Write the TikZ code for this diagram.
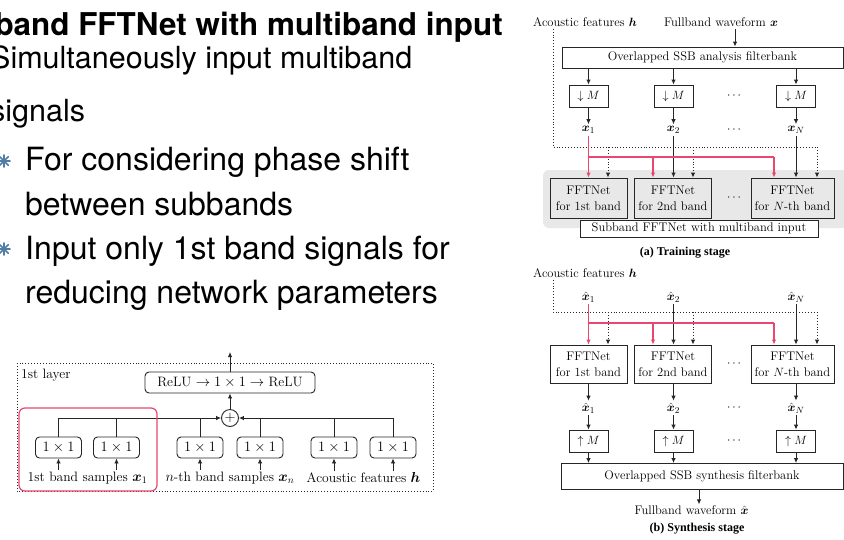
\documentclass[tikz,border=0pt]{standalone}
\usepackage{amsmath}
\usepackage{fontspec}
\newfontfamily\slidefont{TeX Gyre Heros}
\newfontfamily\capfont{Liberation Serif}
\usetikzlibrary{arrows.meta}
\definecolor{pinkred}{RGB}{232,72,112}
\definecolor{bulletblue}{RGB}{80,125,165}
\definecolor{bggray}{RGB}{232,232,232}
\tikzset{
  ln/.style={line width=0.9pt, draw=black!85},
  arr/.style={ln, -{Latex[length=5pt,width=4.5pt]}},
  dotln/.style={line width=0.9pt, dotted, draw=black!85},
  dotarr/.style={dotln, -{Latex[length=5pt,width=4.5pt]}},
  redln/.style={line width=1.2pt, draw=pinkred},
  redarr/.style={redln, -{Latex[length=5pt,width=4.5pt]}},
  sbox/.style={draw=black!85, line width=0.9pt, inner sep=0pt, align=center},
  rbox/.style={draw=black!85, line width=0.9pt, inner sep=0pt, rounded corners=4pt, fill=white},
  lbl/.style={inner sep=2pt},
  slidetext/.style={anchor=base west, inner sep=0pt, font=\slidefont\fontsize{32}{38}\selectfont},
  maintext/.style={anchor=base west, inner sep=0pt, font=\slidefont\fontsize{30.5}{36}\selectfont}
}
\begin{document}
\begin{tikzpicture}[x=1pt,y=-1pt]
\useasboundingbox (0,0) rectangle (844,539);
\clip (0,0) rectangle (844,539);
\fill[white] (0,0) rectangle (844,539);

% ---------------- slide text ----------------
\node[anchor=base east, inner sep=0pt, font=\slidefont\bfseries\fontsize{31.4}{36}\selectfont] (title) at (503,35) {Subband FFTNet with multiband input};
\node[maintext] (m1) at (-10,68) {Simultaneously input multiband};
\node[maintext] (m2) at (-10,121) {signals};
\node[slidetext] (s1) at (25,170) {For considering phase shift};
\node[slidetext] (s2) at (25,215) {between subbands};
\node[slidetext] (s3) at (25,259) {Input only 1st band signals for};
\node[slidetext] (s4) at (25,303) {reducing network parameters};
\foreach \cy in {161,249}{
  \foreach \a in {0,45,...,315}{
    \draw[bulletblue, line width=1.6pt, line cap=round] (4,\cy) -- ++(\a:6);
  }
}

% ---------------- left diagram ----------------
\begin{scope}[font=\fontsize{13.6}{16}\selectfont]
\draw[dotln] (17,363) rectangle (433,491);
\node[anchor=west, inner sep=2pt] (layer) at (19,375) {1st layer};
\node[rbox, minimum width=170pt, minimum height=21pt] (relu) at (230,382.5) {ReLU $\rightarrow 1\times1 \rightarrow$ ReLU};
\node[circle, draw=black!85, line width=0.9pt, fill=white, minimum size=17pt, inner sep=0pt] (plus) at (230,418) {$+$};
\coordinate (out) at (230,352);
\draw[arr] (relu.north) -- (out);
\draw[arr] (plus.north) -- (relu.south);
\foreach \n/\x in {b1/58.5,b2/116.5,b3/200,b4/260,b5/334,b6/393}{
  \node[rbox, minimum width=46pt, minimum height=21pt] (\n) at (\x,447.5) {$1\times1$};
}
\draw[arr] (b1.north) |- (plus.west);
\draw[arr] (b6.north) |- (plus.east);
\foreach \n in {b2,b3}{ \draw[ln] (\n.north) -- (\n.north |- plus.west); }
\foreach \n in {b4,b5}{ \draw[ln] (\n.north) -- (\n.north |- plus.east); }
\node[lbl] (lab1) at (87.5,478) {1st band samples $\boldsymbol{x}_1$};
\node[lbl] (lab2) at (230,478) {$n$-th band samples $\boldsymbol{x}_n$};
\node[lbl] (lab3) at (363.5,478) {Acoustic features $\boldsymbol{h}$};
\draw[arr] (lab1.north -| b1.south) -- (b1.south);
\draw[arr] (lab1.north -| b2.south) -- (b2.south);
\draw[arr] (lab2.north -| b3.south) -- (b3.south);
\draw[arr] (lab2.north -| b4.south) -- (b4.south);
\draw[arr] (lab3.north -| b5.south) -- (b5.south);
\draw[arr] (lab3.north -| b6.south) -- (b6.south);
\draw[pinkred, line width=1.2pt, rounded corners=6pt] (19,408) rectangle (157,491);
\end{scope}

% ---------------- right diagram: training ----------------
\begin{scope}[font=\fontsize{12.5}{16}\selectfont]
\fill[bggray, rounded corners=6pt] (543,170) rectangle (850,228);
\node[lbl] (af1) at (585,22) {Acoustic features $\boldsymbol{h}$};
\node[lbl] (fw) at (721,22) {Fullband waveform $\boldsymbol{x}$};
\node[sbox, fill=white, minimum width=281pt, minimum height=21pt] (afb) at (702.5,57.5) {Overlapped SSB analysis filterbank};
\draw[arr] ([xshift=14pt]fw.south) -- ([xshift=14pt]fw.south |- afb.north);
\node[sbox, minimum width=39pt, minimum height=22pt] (d1) at (588.5,96) {$\downarrow M$};
\node[sbox, minimum width=39pt, minimum height=22pt] (d2) at (673.5,96) {$\downarrow M$};
\node[sbox, minimum width=39pt, minimum height=22pt] (dN) at (796,96) {$\downarrow M$};
\node (dd1) at (735,96) {$\cdots$};
\foreach \n in {d1,d2,dN}{ \draw[arr] (afb.south -| \n.north) -- (\n.north); }
\node[lbl] (x1) at (588.5,130) {$\boldsymbol{x}_1$};
\node[lbl] (x2) at (673.5,130) {$\boldsymbol{x}_2$};
\node[lbl] (xN) at (796,130) {$\boldsymbol{x}_N$};
\node (dd2) at (735,130) {$\cdots$};
\draw[arr] (d1.south) -- (x1.north);
\draw[arr] (d2.south) -- (x2.north);
\draw[arr] (dN.south) -- (xN.north);

\node[sbox, minimum width=77pt, minimum height=40pt] (f1) at (588.5,198) {FFTNet\\for 1st band};
\node[sbox, minimum width=77pt, minimum height=40pt] (f2) at (673,198) {FFTNet\\for 2nd band};
\node[sbox, minimum width=83pt, minimum height=40pt] (fN) at (792.5,198) {FFTNet\\for $N$-th band};
\node (dd3) at (735,198) {$\cdots$};
\node[sbox, fill=white, minimum width=238pt, minimum height=17pt] (sub) at (699,228.5) {Subband FFTNet with multiband input};

% dotted acoustic feature lines
\coordinate (hc) at (553,147);
\coordinate (h1) at (608,147);
\coordinate (h2) at (693,147);
\coordinate (h3) at (817,147);
\draw[dotln] (af1.south -| hc) -- (hc) -- (h3);
\draw[dotarr] (h1) -- (h1 |- f1.north);
\draw[dotarr] (h2) -- (h2 |- f2.north);
\draw[dotarr] (h3) -- (h3 |- fN.north);
% black
\draw[arr] (x2.south) -- (x2.south |- f2.north);
\draw[arr] (xN.south) -- (xN.south |- fN.north);
% red
\coordinate (r1) at (588.5,157);
\coordinate (r2) at (653,157);
\coordinate (r3) at (774,157);
\draw[redln] (r1) -- (r3);
\draw[redarr] (x1.south) -- (x1.south |- f1.north);
\draw[redarr] (r2) -- (r2 |- f2.north);
\draw[redarr] (r3) -- (r3 |- fN.north);
\node[font=\capfont\bfseries\fontsize{12}{14}\selectfont] (capa) at (685,253) {(a) Training stage};

% ---------------- right diagram: synthesis ----------------
\node[lbl] (af2) at (585,273) {Acoustic features $\boldsymbol{h}$};
\node[lbl] (y1) at (588.5,297) {$\hat{\boldsymbol{x}}_1$};
\node[lbl] (y2) at (673.5,297) {$\hat{\boldsymbol{x}}_2$};
\node[lbl] (yN) at (796,297) {$\hat{\boldsymbol{x}}_N$};
\node[sbox, fill=white, minimum width=77pt, minimum height=38pt] (g1) at (588.5,364) {FFTNet\\for 1st band};
\node[sbox, fill=white, minimum width=77pt, minimum height=38pt] (g2) at (673,364) {FFTNet\\for 2nd band};
\node[sbox, fill=white, minimum width=83pt, minimum height=38pt] (gN) at (792.5,364) {FFTNet\\for $N$-th band};
\node (dd4) at (735,364) {$\cdots$};
\coordinate (kc) at (553,312);
\coordinate (k1) at (608,312);
\coordinate (k2) at (693,312);
\coordinate (k3) at (817,312);
\draw[dotln] (af2.south -| kc) -- (kc) -- (k3);
\draw[dotarr] (k1) -- (k1 |- g1.north);
\draw[dotarr] (k2) -- (k2 |- g2.north);
\draw[dotarr] (k3) -- (k3 |- gN.north);
\draw[arr] (y2.south) -- (y2.south |- g2.north);
\draw[arr] (yN.south) -- (yN.south |- gN.north);
\coordinate (q1) at (588.5,323);
\coordinate (q2) at (653,323);
\coordinate (q3) at (774,323);
\draw[redln] (q1) -- (q3);
\draw[redarr] (y1.south) -- (y1.south |- g1.north);
\draw[redarr] (q2) -- (q2 |- g2.north);
\draw[redarr] (q3) -- (q3 |- gN.north);

\node[lbl] (z1) at (588.5,408) {$\hat{\boldsymbol{x}}_1$};
\node[lbl] (z2) at (673.5,408) {$\hat{\boldsymbol{x}}_2$};
\node[lbl] (zN) at (796,408) {$\hat{\boldsymbol{x}}_N$};
\node (dd5) at (735,408) {$\cdots$};
\draw[arr] (g1.south -| z1.north) -- (z1.north);
\draw[arr] (g2.south -| z2.north) -- (z2.north);
\draw[arr] (gN.south -| zN.north) -- (zN.north);
\node[sbox, minimum width=39pt, minimum height=22pt] (u1) at (588.5,441) {$\uparrow M$};
\node[sbox, minimum width=39pt, minimum height=22pt] (u2) at (673.5,441) {$\uparrow M$};
\node[sbox, minimum width=39pt, minimum height=22pt] (uN) at (796,441) {$\uparrow M$};
\node (dd6) at (735,441) {$\cdots$};
\draw[arr] (z1.south) -- (u1.north);
\draw[arr] (z2.south) -- (u2.north);
\draw[arr] (zN.south) -- (uN.north);
\node[sbox, minimum width=282pt, minimum height=26pt] (sfb) at (702,476.5) {Overlapped SSB synthesis filterbank};
\foreach \n in {u1,u2,uN}{ \draw[arr] (\n.south) -- (\n.south |- sfb.north); }
\node[inner sep=0pt] (fo) at (691.5,510) {Fullband waveform $\hat{\boldsymbol{x}}$};
\draw[arr] ([xshift=7.5pt]fo.north |- sfb.south) -- ([xshift=7.5pt,yshift=1pt]fo.north);
\node[inner sep=0pt, font=\capfont\bfseries\fontsize{12}{14}\selectfont] (capb) at (697,529) {(b) Synthesis stage};
\end{scope}
\end{tikzpicture}
\end{document}
